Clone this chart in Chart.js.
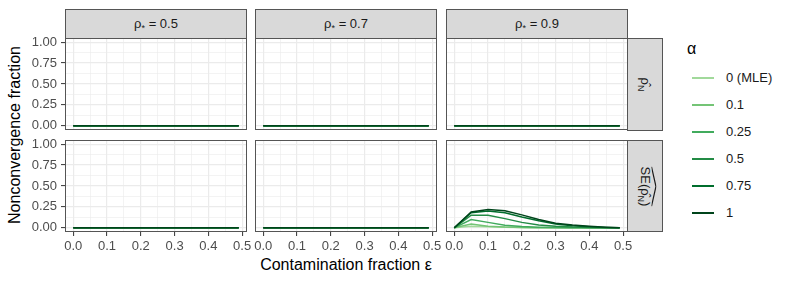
<!DOCTYPE html>
<html lang="en">
<head>
  <meta charset="UTF-8">
  <title>Nonconvergence fraction</title>
  <script src="https://cdn.jsdelivr.net/npm/chart.js@4"></script>
</head>

<style>
  body {
    margin: 0;
    background: #fff;
    font-family: "Liberation Sans", Arial, sans-serif;
  }

  #fig {
    position: relative;
    width: 793px;
    height: 283px;
    overflow: hidden;
  }

  #fig canvas {
    position: absolute;
  }

  .strip {
    position: absolute;
    box-sizing: border-box;
    background: #d9d9d9;
    border: 1px solid #555;
    color: #1a1a1a;
    font-size: 13px;
    display: flex;
    align-items: center;
    justify-content: center;
  }

  .strip .rot {
    transform: rotate(90deg);
    white-space: nowrap;
  }

  .sub {
    font-size: 9px;
    vertical-align: -3px;
  }

  .wh {
    position: relative;
    display: inline-block;
  }

  .wh svg {
    position: absolute;
    left: 0;
    top: -3px;
    width: 100%;
    height: 5px;
  }

  .axis-title {
    position: absolute;
    font-size: 16px;
    color: #000;
    white-space: nowrap;
  }

  .legend-title {
    position: absolute;
    left: 687px;
    top: 40px;
    font-size: 16px;
  }

  .legend-item {
    position: absolute;
    left: 692px;
    height: 16px;
    font-size: 13px;
    color: #1a1a1a;
  }

  .legend-item .key {
    position: absolute;
    left: 0;
    top: 7px;
    width: 22px;
    height: 2px;
  }

  .legend-item .lab {
    position: absolute;
    left: 34px;
    top: 0;
    white-space: nowrap;
  }
</style>

<body>

  <div id="fig">
    <!-- column strips -->
    <div class="strip" style="left:65px; top:9px; width:182px; height:30px;">
      <span>ρ<span class="sub">*</span> = 0.5</span>
    </div>
    <div class="strip" style="left:255px; top:9px; width:182px; height:30px;">
      <span>ρ<span class="sub">*</span> = 0.7</span>
    </div>
    <div class="strip" style="left:446px; top:9px; width:182px; height:30px;">
      <span>ρ<span class="sub">*</span> = 0.9</span>
    </div>

    <!-- row strips -->
    <div class="strip" style="left:627px; top:38px; width:36px; height:93px;">
      <span class="rot">ρ&#770;<span class="sub">N</span></span>
    </div>
    <div class="strip" style="left:627px; top:140px; width:36px; height:92px;">
      <span class="rot"><span class="wh">SE(ρ&#770;<span class="sub">N</span>)<svg viewBox="0 0 100 10" preserveAspectRatio="none"><polyline points="0,10 50,1 100,10" fill="none" stroke="#1a1a1a" stroke-width="1.2" vector-effect="non-scaling-stroke"/></svg></span></span>
    </div>

    <div class="axis-title" style="left:346px; top:256px; transform:translateX(-50%);">Contamination fraction ε</div>
    <div class="axis-title" style="left:15px; top:135px; transform:translate(-50%, -50%) rotate(-90deg);">Nonconvergence fraction</div>

    <div class="legend-title">α</div>
    <div id="legend"></div>
  </div>

  <script>
    // eixo x: fração de contaminação
    const epsilon = [0, 0.05, 0.1, 0.15, 0.2, 0.25, 0.3, 0.35, 0.4, 0.45, 0.49];

    const alphaLabels = ['0 (MLE)', '0.1', '0.25', '0.5', '0.75', '1'];
    const alphaColors = ['#a1d99b', '#74c476', '#41ab5d', '#238b45', '#006d2c', '#00441b'];

    const yTicks = [0, 0.25, 0.5, 0.75, 1];
    const xTicks = [0, 0.1, 0.2, 0.3, 0.4, 0.5];

    // nenhum caso sem convergência
    const noFailures = [0, 0, 0, 0, 0, 0, 0, 0, 0, 0, 0];

    // SE(rho_N), rho* = 0.9
    const seRho09Mle  = [0, 0.02, 0.012, 0.006, 0.003, 0.001, 0, 0, 0, 0, 0];
    const seRho09A01  = [0, 0.045, 0.02, 0.01, 0.005, 0.002, 0.001, 0, 0, 0, 0];
    const seRho09A025 = [0, 0.1, 0.065, 0.03, 0.015, 0.007, 0.003, 0.001, 0, 0, 0];
    const seRho09A05  = [0, 0.15, 0.15, 0.11, 0.065, 0.035, 0.02, 0.01, 0.005, 0.002, 0];
    const seRho09A075 = [0, 0.18, 0.2, 0.18, 0.13, 0.085, 0.045, 0.025, 0.012, 0.005, 0];
    const seRho09A1   = [0, 0.19, 0.22, 0.205, 0.155, 0.1, 0.055, 0.035, 0.02, 0.008, 0];

    const zeroPanel = [noFailures, noFailures, noFailures, noFailures, noFailures, noFailures];
    const sePanel09 = [seRho09Mle, seRho09A01, seRho09A025, seRho09A05, seRho09A075, seRho09A1];

    const panels = [
      [zeroPanel, zeroPanel, zeroPanel],
      [zeroPanel, zeroPanel, sePanel09]
    ];

    // posições dos painéis
    const colLeft = [65, 255, 446];
    const rowTop = [38, 140];
    const panelW = 182;
    const panelH = 92;
    const yAxisW = 42;
    const xAxisH = 24;
    const pad = 10;

    const isMajor = (v, list) => list.some(t => Math.abs(t - v) < 1e-6);

    const frame = {
      id: 'frame',
      afterDraw(chart) {
        const a = chart.chartArea;
        const ctx = chart.ctx;
        ctx.save();
        ctx.strokeStyle = '#555';
        ctx.lineWidth = 1;
        ctx.strokeRect(a.left + 0.5, a.top + 0.5, a.right - a.left - 1, a.bottom - a.top - 1);
        ctx.restore();
      }
    };

    const fig = document.getElementById('fig');

    panels.forEach((row, r) => {
      row.forEach((series, c) => {
        const leftAxis = c === 0;
        const bottomAxis = r === 1;
        const canvas = document.createElement('canvas');
        const w = panelW + 2 * pad + (leftAxis ? yAxisW : 0);
        const h = panelH + 2 * pad + (bottomAxis ? xAxisH : 0);
        canvas.width = w;
        canvas.height = h;
        canvas.style.left = (colLeft[c] - pad - (leftAxis ? yAxisW : 0)) + 'px';
        canvas.style.top = (rowTop[r] - pad) + 'px';
        fig.appendChild(canvas);

        new Chart(canvas.getContext('2d'), {
          type: 'line',
          data: {
            datasets: series.map((vals, i) => ({
              label: alphaLabels[i],
              data: epsilon.map((e, k) => ({ x: e, y: vals[k] })),
              borderColor: alphaColors[i],
              borderWidth: 1.5,
              pointRadius: 0,
              tension: 0,
              fill: false,
              order: series.length - i   // alpha = 1 por cima
            }))
          },
          plugins: [frame],
          options: {
            responsive: false,
            animation: false,
            devicePixelRatio: 1,
            layout: { padding: pad },
            plugins: {
              legend: { display: false },
              tooltip: { enabled: false }
            },
            scales: {
              x: {
                type: 'linear',
                min: -0.0245,
                max: 0.5145,
                border: { display: false },
                afterFit: s => {
                  s.height = bottomAxis ? xAxisH : 0;
                  s.paddingLeft = 0; s.paddingRight = 0;
                },
                grid: {
                  color: '#ebebeb',
                  lineWidth: ctx => isMajor(ctx.tick.value, xTicks) ? 1.2 : 0.6,
                  drawTicks: bottomAxis,
                  tickLength: 4,
                  tickWidth: 1,
                  tickColor: ctx => isMajor(ctx.tick.value, xTicks) ? '#333' : 'rgba(0,0,0,0)'
                },
                ticks: {
                  display: bottomAxis,
                  stepSize: 0.05,
                  includeBounds: false,
                  autoSkip: false,
                  maxRotation: 0,
                  padding: 3,
                  color: '#4d4d4d',
                  font: { family: 'Liberation Sans', size: 13 },
                  callback: v => isMajor(v, xTicks) ? v.toFixed(1) : ''
                }
              },
              y: {
                min: -0.05,
                max: 1.05,
                border: { display: false },
                afterFit: s => {
                  s.width = leftAxis ? yAxisW : 0;
                  s.paddingTop = 0; s.paddingBottom = 0;
                },
                grid: {
                  color: '#ebebeb',
                  lineWidth: ctx => isMajor(ctx.tick.value, yTicks) ? 1.2 : 0.6,
                  drawTicks: leftAxis,
                  tickLength: 4,
                  tickWidth: 1,
                  tickColor: ctx => isMajor(ctx.tick.value, yTicks) ? '#333' : 'rgba(0,0,0,0)'
                },
                ticks: {
                  display: leftAxis,
                  stepSize: 0.125,
                  includeBounds: false,
                  autoSkip: false,
                  padding: 4,
                  color: '#4d4d4d',
                  font: { family: 'Liberation Sans', size: 13 },
                  callback: v => isMajor(v, yTicks) ? v.toFixed(2) : ''
                }
              }
            }
          }
        });
      });
    });

    // legenda
    const legend = document.getElementById('legend');
    alphaLabels.forEach((lab, i) => {
      const item = document.createElement('div');
      item.className = 'legend-item';
      item.style.top = (70 + i * 27) + 'px';
      item.innerHTML = '<div class="key" style="background:' + alphaColors[i] + '"></div><div class="lab">' + lab + '</div>';
      legend.appendChild(item);
    });
  </script>
</body>
</html>
